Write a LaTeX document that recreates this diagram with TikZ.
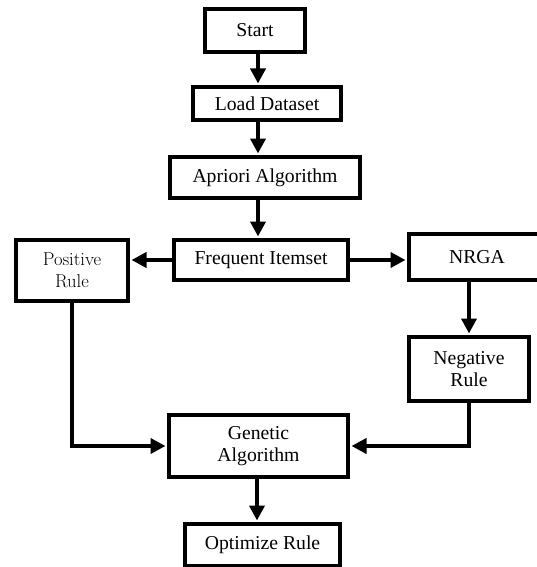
\documentclass[tikz,border=0pt]{standalone}
\usepackage{fontspec}
\setmainfont{Liberation Serif}
\newfontfamily\lmfont{Latin Modern Roman}
\usetikzlibrary{arrows.meta}
\begin{document}
\begin{tikzpicture}[x=1pt,y=-1pt,
  box/.style={draw=black,line width=4pt,fill=white,inner sep=0pt,align=center,
    font=\fontsize{19.7}{22}\selectfont},
  arr/.style={line width=4.5pt,line join=miter,-{Triangle[length=15pt,width=15pt]},shorten >=1.5pt},
  ln/.style={line width=4.5pt,line join=miter}]
\useasboundingbox[fill=white] (0,0) rectangle (536,567);
\node[box,minimum width=100pt,minimum height=43pt] (start) at (255,30.5) {Start};
\node[box,minimum width=148pt,minimum height=33pt] (load) at (267,103.5) {Load Dataset};
\node[box,minimum width=190pt,minimum height=41pt] (apriori) at (265,177.5) {Apriori Algorithm};
\node[box,minimum width=174pt,minimum height=40pt] (freq) at (261,260) {Frequent Itemset};
\node[box,minimum width=112pt,minimum height=61pt,font=\lmfont\fontsize{18.6}{22}\selectfont] (pos) at (72,270.5) {Positive\\Rule};
\node[box,minimum width=136pt,minimum height=46pt] (nrga) at (477,257) {NRGA};
\node[box,minimum width=120pt,minimum height=64pt] (neg) at (469,369) {Negative\\Rule};
\node[box,minimum width=179pt,minimum height=62pt] (gen) at (258.5,446) {Genetic\\Algorithm};
\node[box,minimum width=155pt,minimum height=42pt] (opt) at (262.5,545) {Optimize Rule};
\coordinate (cx) at (258,0);
\coordinate (gx) at (257,0);
\draw[arr] (start.south -| cx) -- (load.north -| cx);
\draw[arr] (load.south -| cx) -- (apriori.north -| cx);
\draw[arr] (apriori.south -| cx) -- (freq.north -| cx);
\draw[arr] (freq.west) -- (pos.east |- freq.west);
\draw[arr] (freq.east) -- (nrga.west |- freq.east);
\draw[arr] ([yshift=3pt]neg.north |- nrga.south) -- (neg.north);
\draw[arr] (pos.south) |- (gen.west);
\draw[arr] (neg.south) |- (gen.east);
\draw[arr] (gen.south -| gx) -- (opt.north -| gx);
\end{tikzpicture}
\end{document}
